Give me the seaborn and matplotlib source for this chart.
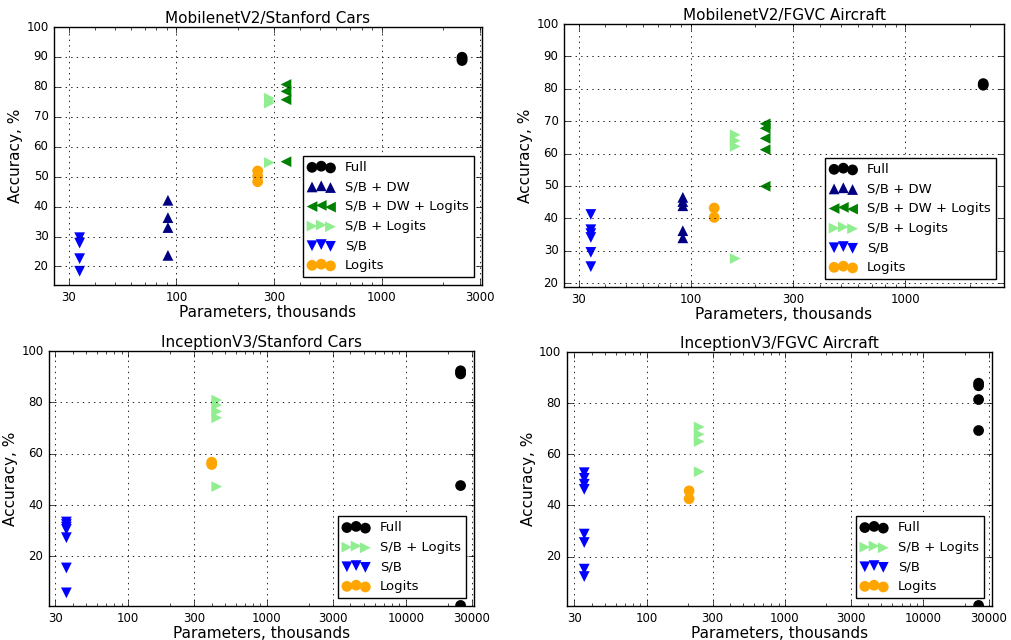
import numpy as np
import matplotlib
matplotlib.use("Agg")
import matplotlib.pyplot as plt
import seaborn as sns

# MobilenetV2 panels
mv2_methods = ["Full", "S/B + DW", "S/B + DW + Logits", "S/B + Logits", "S/B", "Logits"]
mv2_colors = ["black", "navy", "green", "lightgreen", "blue", "orange"]
mv2_markers = ["o", "^", "<", ">", "v", "o"]

mv2_cars_params = [2465, 91, 342, 284, 33.8, 249]
mv2_cars_acc = [[88.8, 89.3, 89.9],
                [42.1, 36.3, 33.0, 23.7],
                [80.8, 78.5, 75.7, 55.0],
                [76.2, 75.4, 74.6, 54.7],
                [29.6, 27.8, 22.6, 18.4],
                [51.9, 50.1, 48.3]]

mv2_air_params = [2307, 91.8, 222, 161, 34.2, 128.5]
mv2_air_acc = [[81.1, 81.6],
               [46.5, 45.2, 43.9, 36.2, 34.0],
               [69.2, 67.8, 64.7, 61.2, 49.9],
               [65.8, 64.0, 62.2, 27.6],
               [41.2, 36.5, 35.3, 34.1, 29.5, 25.1],
               [43.2, 40.3]]

# InceptionV3 panels
inc_methods = ["Full", "S/B + Logits", "S/B", "Logits"]
inc_colors = ["black", "lightgreen", "blue", "orange"]
inc_markers = ["o", ">", "v", "o"]

inc_cars_params = [24800, 436, 36.1, 401]
inc_cars_acc = [[92.3, 91.7, 91.1, 47.6, 0.9],
                [80.9, 79.0, 76.5, 74.0, 47.2],
                [33.4, 32.4, 31.4, 30.5, 27.3, 15.5, 5.8],
                [56.7, 55.8]]

inc_air_params = [25200, 240, 35.4, 203]
inc_air_acc = [[87.8, 86.8, 81.4, 69.3, 0.9],
               [70.7, 67.8, 65.0, 53.2],
               [52.8, 50.6, 48.3, 46.3, 28.8, 25.5, 15.1, 12.2],
               [45.7, 42.6]]

plt.style.use("classic")
plt.rcParams["font.family"] = ["DejaVu Sans"]

fig = plt.figure(figsize=(10.11, 6.4), dpi=100, facecolor="white")


def panel(rect, title, methods, colors, markers, params, acc, xticks, yticks):
    ax = fig.add_axes(rect)
    for name, c, m, p, a in zip(methods, colors, markers, params, acc):
        sns.scatterplot(x=np.full(len(a), p), y=a, ax=ax, color=c, marker=m,
                        s=60, linewidth=0, edgecolor="none", label=name, legend=False)
    ax.set_xscale("log")
    ax.set_xlim(min(params) * 0.75, max(params) * 1.25)
    all_acc = [v for a in acc for v in a]
    ax.set_ylim(min(all_acc) * 0.75, 100)
    ax.set_xticks(xticks)
    ax.set_xticklabels([str(t) for t in xticks])
    ax.set_yticks(yticks)
    ax.grid(True, which="major", color="k", linestyle=":", linewidth=0.6)
    ax.tick_params(labelsize=8.5)
    ax.set_title(title, fontsize=11, pad=3)
    ax.set_xlabel("Parameters, thousands", fontsize=11, labelpad=1)
    ax.set_ylabel("Accuracy, %", fontsize=11, labelpad=2)
    ax.legend(loc="lower right", scatterpoints=3, fontsize=9.5, fancybox=False,
              scatteryoffsets=[0.375, 0.5, 0.3125], borderaxespad=0.6)
    return ax


panel([0.0534, 0.5547, 0.4233, 0.4031], "MobilenetV2/Stanford Cars", mv2_methods,
      mv2_colors, mv2_markers, mv2_cars_params, mv2_cars_acc,
      [30, 100, 300, 1000, 3000], list(range(20, 101, 10)))
panel([0.5579, 0.5516, 0.4352, 0.4109], "MobilenetV2/FGVC Aircraft", mv2_methods,
      mv2_colors, mv2_markers, mv2_air_params, mv2_air_acc,
      [30, 100, 300, 1000], list(range(20, 101, 10)))
panel([0.0485, 0.0531, 0.4204, 0.3984], "InceptionV3/Stanford Cars", inc_methods,
      inc_colors, inc_markers, inc_cars_params, inc_cars_acc,
      [30, 100, 300, 1000, 3000, 10000, 30000], [20, 40, 60, 80, 100])
panel([0.5608, 0.0531, 0.4204, 0.3969], "InceptionV3/FGVC Aircraft", inc_methods,
      inc_colors, inc_markers, inc_air_params, inc_air_acc,
      [30, 100, 300, 1000, 3000, 10000, 30000], [20, 40, 60, 80, 100])

fig.savefig("out.png", dpi=100, facecolor="white")
